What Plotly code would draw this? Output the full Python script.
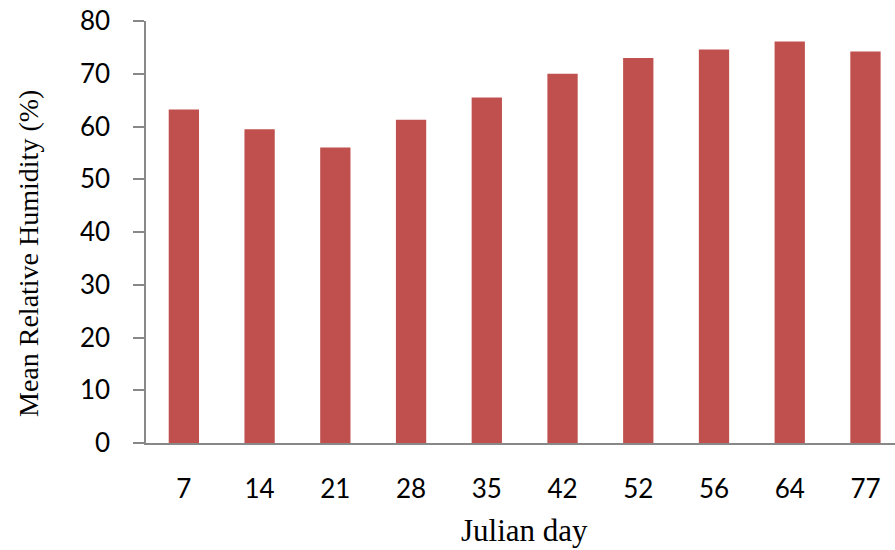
import plotly.graph_objects as go

days = ["7", "14", "21", "28", "35", "42", "52", "56", "64", "77"]
humidity = [63.2, 59.5, 56.0, 61.3, 65.5, 70.0, 73.0, 74.6, 76.1, 74.2]
y_ticks = [0, 10, 20, 30, 40, 50, 60, 70, 80]

fig = go.Figure(go.Bar(
    x=days, y=humidity,
    marker=dict(color="#C0504D", line=dict(width=0)),
    width=0.4,
))

L, R, T, B = 146, 0, 21, 107
W, H = 895, 550
pw = W - L - R
ph = H - T - B

def px(x):
    return (x - L) / pw

def py(y):
    return (H - B - y) / ph

axis_col = "#888888"
fig.update_layout(
    width=W, height=H,
    margin=dict(l=L, r=R, t=T, b=B),
    plot_bgcolor="white", paper_bgcolor="white",
    showlegend=False,
    xaxis=dict(
        type="category", range=[-0.5, 9.39],
        showline=True, linecolor=axis_col, linewidth=1.5,
        showgrid=False, ticks="", zeroline=False,
        tickfont=dict(family="Lato", size=26, color="black"),
        ticklabelstandoff=22,
    ),
    yaxis=dict(
        range=[0, 80], tickvals=y_ticks,
        showline=True, linecolor=axis_col, linewidth=1.5,
        ticks="outside", ticklen=11, tickcolor=axis_col, tickwidth=1.5,
        showgrid=False, zeroline=False,
        tickfont=dict(family="Lato", size=26, color="black"),
        ticklabelstandoff=18,
    ),
    annotations=[
        dict(text="Julian day", x=px(524), y=py(530), xref="paper", yref="paper",
             xanchor="center", yanchor="middle", showarrow=False,
             font=dict(family="Liberation Serif", size=31, color="black")),
        dict(text="Mean Relative Humidity (%)", textangle=-90, showarrow=False,
             x=px(28), y=py(254), xref="paper", yref="paper",
             xanchor="center", yanchor="middle",
             font=dict(family="Liberation Serif", size=28, color="black")),
    ],
)

fig.write_html("out.html")
